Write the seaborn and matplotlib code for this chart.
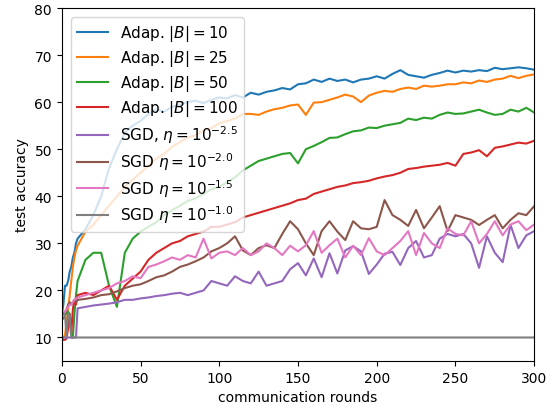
import numpy as np
import pandas as pd
import matplotlib
matplotlib.use('Agg')
import matplotlib.pyplot as plt
import seaborn as sns


# Communication rounds at which values were read
rounds = list(range(0, 10)) + list(range(10, 301, 5))

# Test accuracy per method
adap_10 = [15, 17, 21, 21, 22, 24, 25, 27, 28, 30,
           31, 33, 36, 40, 46, 50, 53.5, 55, 56, 57.5,
           58.5, 58, 59, 59.5, 60, 60.3, 59.8, 60.5, 61, 60.8,
           61.5, 61, 62, 61.6, 62.2, 62.5, 63, 62.7, 63.8, 64,
           64.8, 64.3, 65, 64.5, 64.8, 64.2, 64.8, 65, 65.5, 65,
           66, 66.8, 65.8, 65.5, 65.2, 65.8, 66.2, 66.7, 66.3, 66.7,
           66.5, 66.8, 66.6, 67.3, 67, 67.2, 67.4, 67.2, 66.9]
adap_25 = [10, 10, 10.5, 13, 16, 19, 22, 25, 27, 28.5,
           29.5, 32.5, 34, 36, 38, 40, 42, 43.5, 45, 46.5,
           48, 49, 50.5, 51.5, 52.5, 53, 54, 54.5, 55.5, 56,
           56.5, 57.5, 57.5, 57.3, 58, 58.5, 58.8, 59.3, 59.5, 57.3,
           59.9, 60, 60.5, 61, 61.6, 61.2, 60, 61.4, 62, 62.4,
           62.2, 62.8, 63.1, 62.8, 63.5, 63.3, 63.5, 63.8, 63.8, 64.2,
           64, 64.6, 64.3, 64.8, 65, 65.6, 65.1, 65.6, 65.9]
adap_50 = [15.5, 15, 15.5, 15, 15.5, 15, 10, 10, 15, 19,
           22, 26.5, 28, 28, 21, 16.5, 28, 31, 32.5, 33.5,
           34.5, 36, 37, 38, 39, 39.6, 40.5, 41.5, 42, 43,
           44, 45.5, 46.5, 47.5, 48, 48.5, 49, 49.2, 47, 50,
           50.7, 51.5, 52.4, 52.5, 53.2, 53.8, 54, 54.6, 54.5, 55,
           55.3, 55.6, 56.5, 56.2, 56.7, 56.5, 57.3, 57.8, 57.5, 57.6,
           58, 58.4, 57.8, 57.3, 57.5, 58.4, 58, 58.8, 57.8]
adap_100 = [10, 9.5, 9.5, 9.8, 12, 15, 11, 16, 18, 17,
            19, 19.5, 19, 20, 21, 18, 21, 22.5, 24, 26.5,
            28, 29, 30, 30.5, 31.5, 32, 32.5, 33.5, 33.5, 34,
            34.5, 35.5, 36, 36.5, 37, 37.5, 38, 38.5, 39.2, 39.5,
            40.5, 41, 41.5, 42, 42.3, 42.8, 43, 43.3, 43.8, 44.2,
            44.5, 45, 45.8, 46, 46.3, 46.5, 46.7, 47.1, 46.5, 49,
            49.3, 49.8, 48.5, 50.3, 50.6, 51, 51.4, 51.2, 51.8]
sgd_m25 = [10, 10, 10, 10, 10, 10, 10, 10, 10, 10,
           16.2, 16.5, 16.8, 17, 17.2, 17.5, 18, 18, 18.3, 18.5,
           18.8, 19, 19.3, 19.5, 19, 19.5, 20, 22, 21.5, 21,
           23, 22, 21.5, 24, 21, 21.5, 22, 24.5, 25.8, 23.2,
           26.8, 22.8, 27.9, 23.6, 28.5, 29.4, 28.3, 23.5, 25.5, 27.8,
           28.2, 25.4, 29, 30.5, 27, 27.5, 31, 32, 31.5, 32,
           30, 24.8, 31.5, 28, 26, 33.9, 29, 31.7, 32.6]
sgd_m20 = [15, 14, 15, 16, 17, 17.5, 17, 17.5, 18, 17.5,
           18, 18.2, 18.5, 19, 19.2, 19.8, 20.5, 21, 21.3, 22,
           22.8, 23.2, 24, 25, 25.5, 26.2, 27, 28.3, 29, 30,
           31.5, 28.5, 27.5, 29, 29.6, 29, 32, 34.7, 33, 30,
           27.5, 32.6, 34.7, 32.5, 30.7, 34.7, 33.2, 33, 33.5, 39.2,
           36, 35, 33.7, 37.1, 33.2, 35.5, 37.9, 32.6, 36, 35.5,
           35, 33.9, 35, 36, 33.2, 35, 36.4, 36, 37.9]
sgd_m15 = [15, 14.5, 15.5, 16, 16.5, 17, 17, 17.5, 18, 18.2,
           18.5, 19, 19.5, 20, 20.5, 21.5, 22, 23, 22.6, 25,
           25.5, 26.2, 27, 26.5, 27.5, 27, 31, 26.8, 28, 28.3,
           27.5, 29, 27.5, 28.3, 30, 29, 27.5, 29.5, 28.3, 29.6,
           32.6, 28, 29.6, 31, 27, 29.5, 27.5, 31.1, 28.3, 27.5,
           29, 30.5, 32.6, 27.5, 32.2, 30, 29, 33.2, 32, 31.7,
           34.7, 30, 32, 34.7, 31.7, 34, 34.7, 32.8, 34]
sgd_m10 = [15, 15, 15, 10, 15, 15, 10, 10, 10, 10] + [10] * 59

labels = [r'Adap. $|B| = 10$', r'Adap. $|B| = 25$', r'Adap. $|B| = 50$',
          r'Adap. $|B| = 100$', r'SGD, $\eta = 10^{-2.5}$',
          r'SGD $\eta = 10^{-2.0}$', r'SGD $\eta = 10^{-1.5}$',
          r'SGD $\eta = 10^{-1.0}$']
series = [adap_10, adap_25, adap_50, adap_100,
          sgd_m25, sgd_m20, sgd_m15, sgd_m10]

# Melt into a long data frame
acc_df = pd.concat([pd.DataFrame({'round': rounds, 'accuracy': s,
                                  'method': lab})
                    for s, lab in zip(series, labels)],
                   ignore_index=True)

fig, ax = plt.subplots(figsize=(5.57, 4.10), dpi=100)
sns.lineplot(x='round', y='accuracy', hue='method', data=acc_df,
             hue_order=labels, palette=sns.color_palette('tab10', 8),
             linewidth=1.5, ax=ax)
handles, labs = ax.get_legend_handles_labels()
ax.legend(handles, labs, loc='upper left', fontsize=11,
          labelspacing=0.33, borderaxespad=0.6)
ax.set_xlim(0, 300)
ax.set_ylim(5, 80)
ax.set_yticks(np.arange(10, 81, 10))
ax.set_xlabel('communication rounds')
ax.set_ylabel('test accuracy')
plt.subplots_adjust(left=0.111, right=0.959, bottom=0.117, top=0.978)
plt.savefig('out.png', dpi=100)
